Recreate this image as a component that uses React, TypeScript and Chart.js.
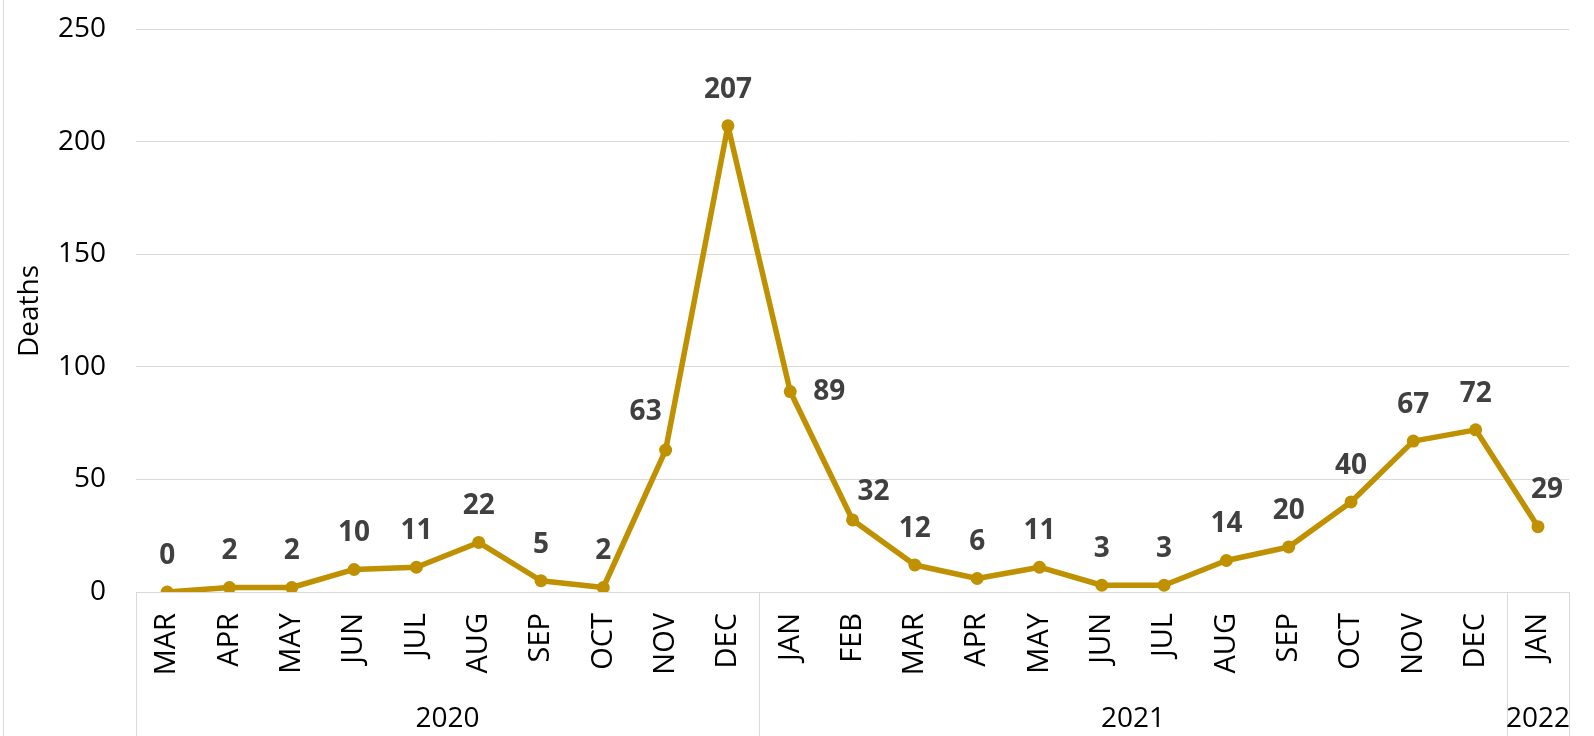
import React, { useEffect, useRef } from "react";
import { Chart, registerables } from "chart.js";

Chart.register(...registerables);

// ---- data ----
const months = [
  "MAR", "APR", "MAY", "JUN", "JUL", "AUG", "SEP", "OCT", "NOV", "DEC",
  "JAN", "FEB", "MAR", "APR", "MAY", "JUN", "JUL", "AUG", "SEP", "OCT", "NOV", "DEC",
  "JAN",
];
const deaths = [0, 2, 2, 10, 11, 22, 5, 2, 63, 207, 89, 32, 12, 6, 11, 3, 3, 14, 20, 40, 67, 72, 29];
const yearLabels = ["2020", "2021", "2022"];
const yearSpans = [10, 12, 1];
const yAxisTitle = "Deaths";
const yMin = 0;
const yMax = 250;
const yStep = 50;
const labelPlacement = [
  "above", "above", "above", "above", "above", "above", "above", "above", "aboveLeft", "above",
  "right", "aboveRight", "above", "above", "above", "above", "above", "above", "above", "above", "above", "above",
  "aboveSlightRight",
];

// ---- styles ----
const FONT = "'Open Sans', sans-serif";
const GRID = "#d9d9d9";
const LINE = "#BF9000";
const LABEL = "#404040";
const placementOffset: Record<string, [number, number]> = {
  above: [0, -36],
  aboveLeft: [-20, -38],
  right: [39, 0],
  aboveRight: [21, -28],
  aboveSlightRight: [9, -37],
};

const decorPlugin = {
  id: "decor",
  afterDatasetsDraw(chart: any) {
    const ctx = chart.ctx;
    const meta = chart.getDatasetMeta(0);
    ctx.save();
    ctx.fillStyle = LABEL;
    ctx.font = `bold 28px ${FONT}`;
    ctx.textAlign = "center";
    ctx.textBaseline = "middle";
    meta.data.forEach((pt: any, i: number) => {
      const off = placementOffset[labelPlacement[i]] || placementOffset.above;
      ctx.fillText(String(deaths[i]), pt.x + off[0], pt.y + off[1]);
    });
    ctx.restore();
  },
  afterDraw(chart: any) {
    const ctx = chart.ctx;
    const x = chart.scales.x;
    const y = chart.scales.y;
    const H = chart.height;
    ctx.save();
    ctx.strokeStyle = GRID;
    ctx.lineWidth = 1;
    const vline = (px: number, y0: number, y1: number) => {
      ctx.beginPath();
      ctx.moveTo(px, y0);
      ctx.lineTo(px, y1);
      ctx.stroke();
    };
    vline(3.5, 0, H);
    const half = (x.getPixelForValue(1) - x.getPixelForValue(0)) / 2;
    const bounds: number[] = [x.left];
    let idx = 0;
    yearSpans.forEach((s) => {
      idx += s;
      bounds.push(x.getPixelForValue(idx - 1) + half);
    });
    bounds.forEach((b) => vline(Math.round(b) + 0.5, y.bottom, H));
    ctx.fillStyle = "#000";
    ctx.font = `28px ${FONT}`;
    ctx.textAlign = "center";
    ctx.textBaseline = "middle";
    yearLabels.forEach((lab, i) => {
      ctx.fillText(lab, (bounds[i] + bounds[i + 1]) / 2, 719);
    });
    ctx.translate(30, 311);
    ctx.rotate(-Math.PI / 2);
    ctx.font = `28px ${FONT}`;
    ctx.fillText(yAxisTitle, 0, 0);
    ctx.restore();
  },
};

export default function App() {
  const ref = useRef<HTMLCanvasElement | null>(null);
  useEffect(() => {
    if (!ref.current) return;
    const chart = new Chart(ref.current, {
      type: "line",
      data: {
        labels: months,
        datasets: [
          {
            data: deaths,
            borderColor: LINE,
            backgroundColor: LINE,
            borderWidth: 5.5,
            borderJoinStyle: "round",
            borderCapStyle: "round",
            pointRadius: 6.5,
            pointBackgroundColor: LINE,
            pointBorderColor: LINE,
            pointBorderWidth: 0,
            tension: 0,
          },
        ],
      },
      options: {
        animation: false,
        responsive: true,
        maintainAspectRatio: false,
        layout: { padding: { left: 0, right: 11, top: 29, bottom: 0 } },
        plugins: { legend: { display: false }, tooltip: { enabled: false } },
        scales: {
          x: {
            offset: true,
            grid: { display: false, drawTicks: false },
            border: { display: false },
            ticks: {
              maxRotation: 90,
              minRotation: 90,
              padding: 21,
              color: "#000",
              font: { family: FONT, size: 29 },
              autoSkip: false,
            },
            afterFit: (s: any) => {
              s.height = 144;
            },
          },
          y: {
            min: yMin,
            max: yMax,
            grid: { color: GRID, lineWidth: 1, drawTicks: true, tickLength: 30, tickColor: "rgba(0,0,0,0)" },
            border: { display: false },
            ticks: {
              stepSize: yStep,
              padding: 0,
              color: "#000",
              font: { family: FONT, size: 28 },
            },
            afterFit: (s: any) => {
              s.width = 136;
            },
          },
        },
      },
      plugins: [decorPlugin],
    });
    return () => chart.destroy();
  }, []);
  return (
    <div style={{ position: "fixed", left: 0, top: 0, width: 1594, height: 736, background: "#fff" }}>
      <canvas ref={ref} />
    </div>
  );
}
